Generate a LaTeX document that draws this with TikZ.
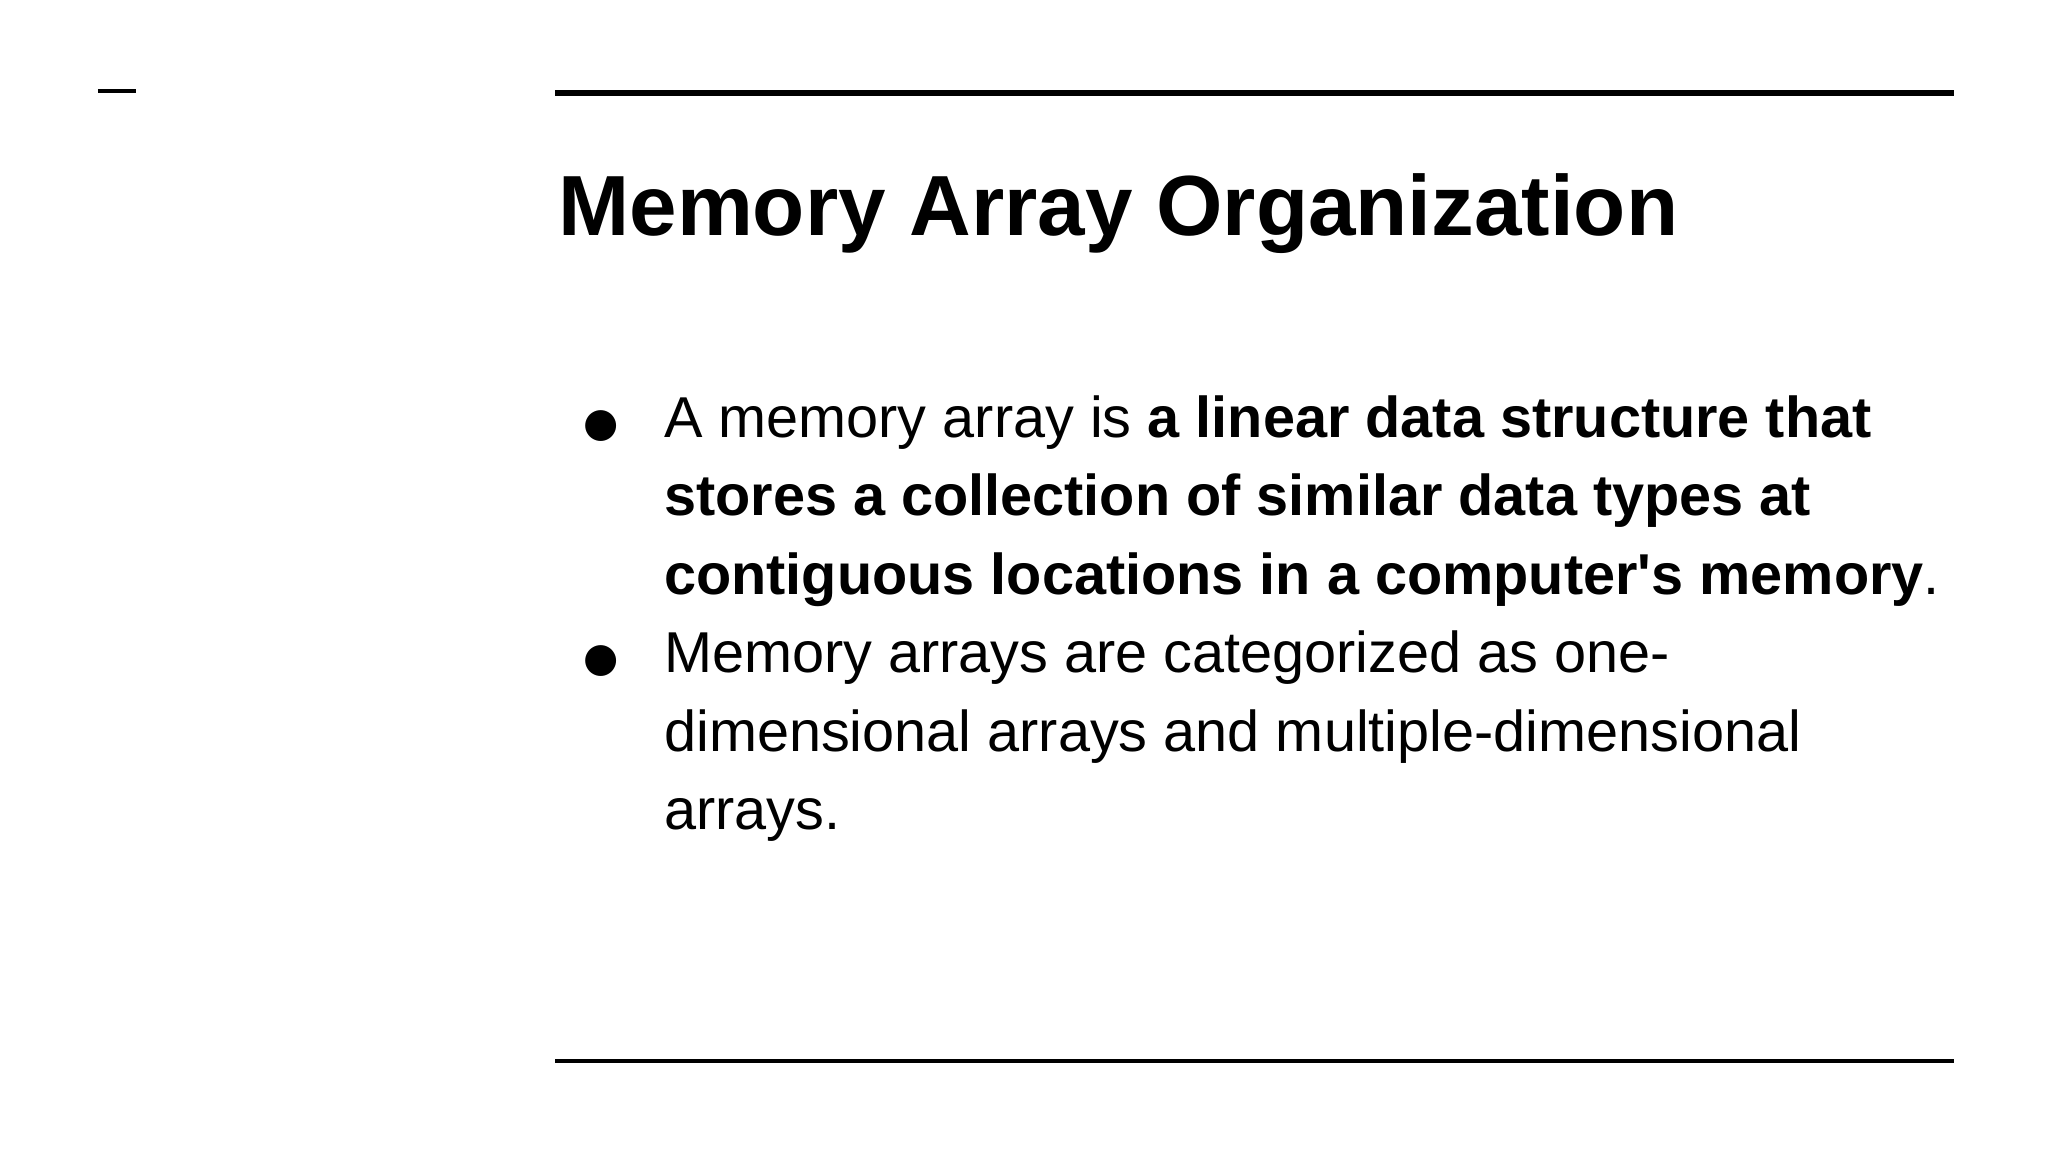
\documentclass[tikz,border=0pt]{standalone}
\usepackage{fontspec}
\setmainfont{Liberation Sans}
\newfontfamily\dotfont{DejaVu Sans}
\usetikzlibrary{positioning}

\begin{document}
\begin{tikzpicture}[
	x=0.013061cm, y=-0.013061cm,
	RuleLine/.style={line width=1.8pt},
	BulletText/.style={anchor=base west, inner sep=0pt,
		font=\fontsize{16.4}{22.3}\selectfont},
	BulletDot/.style={anchor=base, inner sep=0pt,
		font=\dotfont\fontsize{11.5}{14}\selectfont},
	]
	\useasboundingbox (0,0) rectangle (1568,882);

	\coordinate (dashL) at (75,70);
	\coordinate (dashR) at (104,70);
	\draw[line width=1.1pt] (dashL) -- (dashR);

	\coordinate (topL) at (425,71);
	\coordinate (topR) at (1496,71);
	\draw[RuleLine] (topL) -- (topR);

	\node[anchor=base west, inner sep=0pt,
		font=\bfseries\fontsize{24.3}{28}\selectfont] (title) at (427,180)
		{Memory Array Organization};

	\node[BulletDot] (dot1) at (460,334) {●};
	\node[BulletText] (line1) at (508,335)
		{A memory array is \textbf{a linear data structure that}};
	\node[BulletText] (line2) at (508,395)
		{\textbf{stores a collection of similar data types at}};
	\node[BulletText] (line3) at (508,455)
		{\textbf{contiguous locations in a computer\textquotesingle s memory}.};

	\node[BulletDot] (dot2) at (460,514) {●};
	\node[BulletText] (line4) at (508,515)
		{Memory arrays are categorized as one-};
	\node[BulletText] (line5) at (508,575)
		{dimensional arrays and multiple-dimensional};
	\node[BulletText] (line6) at (508,635) {arrays.};

	\coordinate (botL) at (425,812);
	\coordinate (botR) at (1496,812);
	\draw[line width=1.1pt] (botL) -- (botR);
\end{tikzpicture}
\end{document}
